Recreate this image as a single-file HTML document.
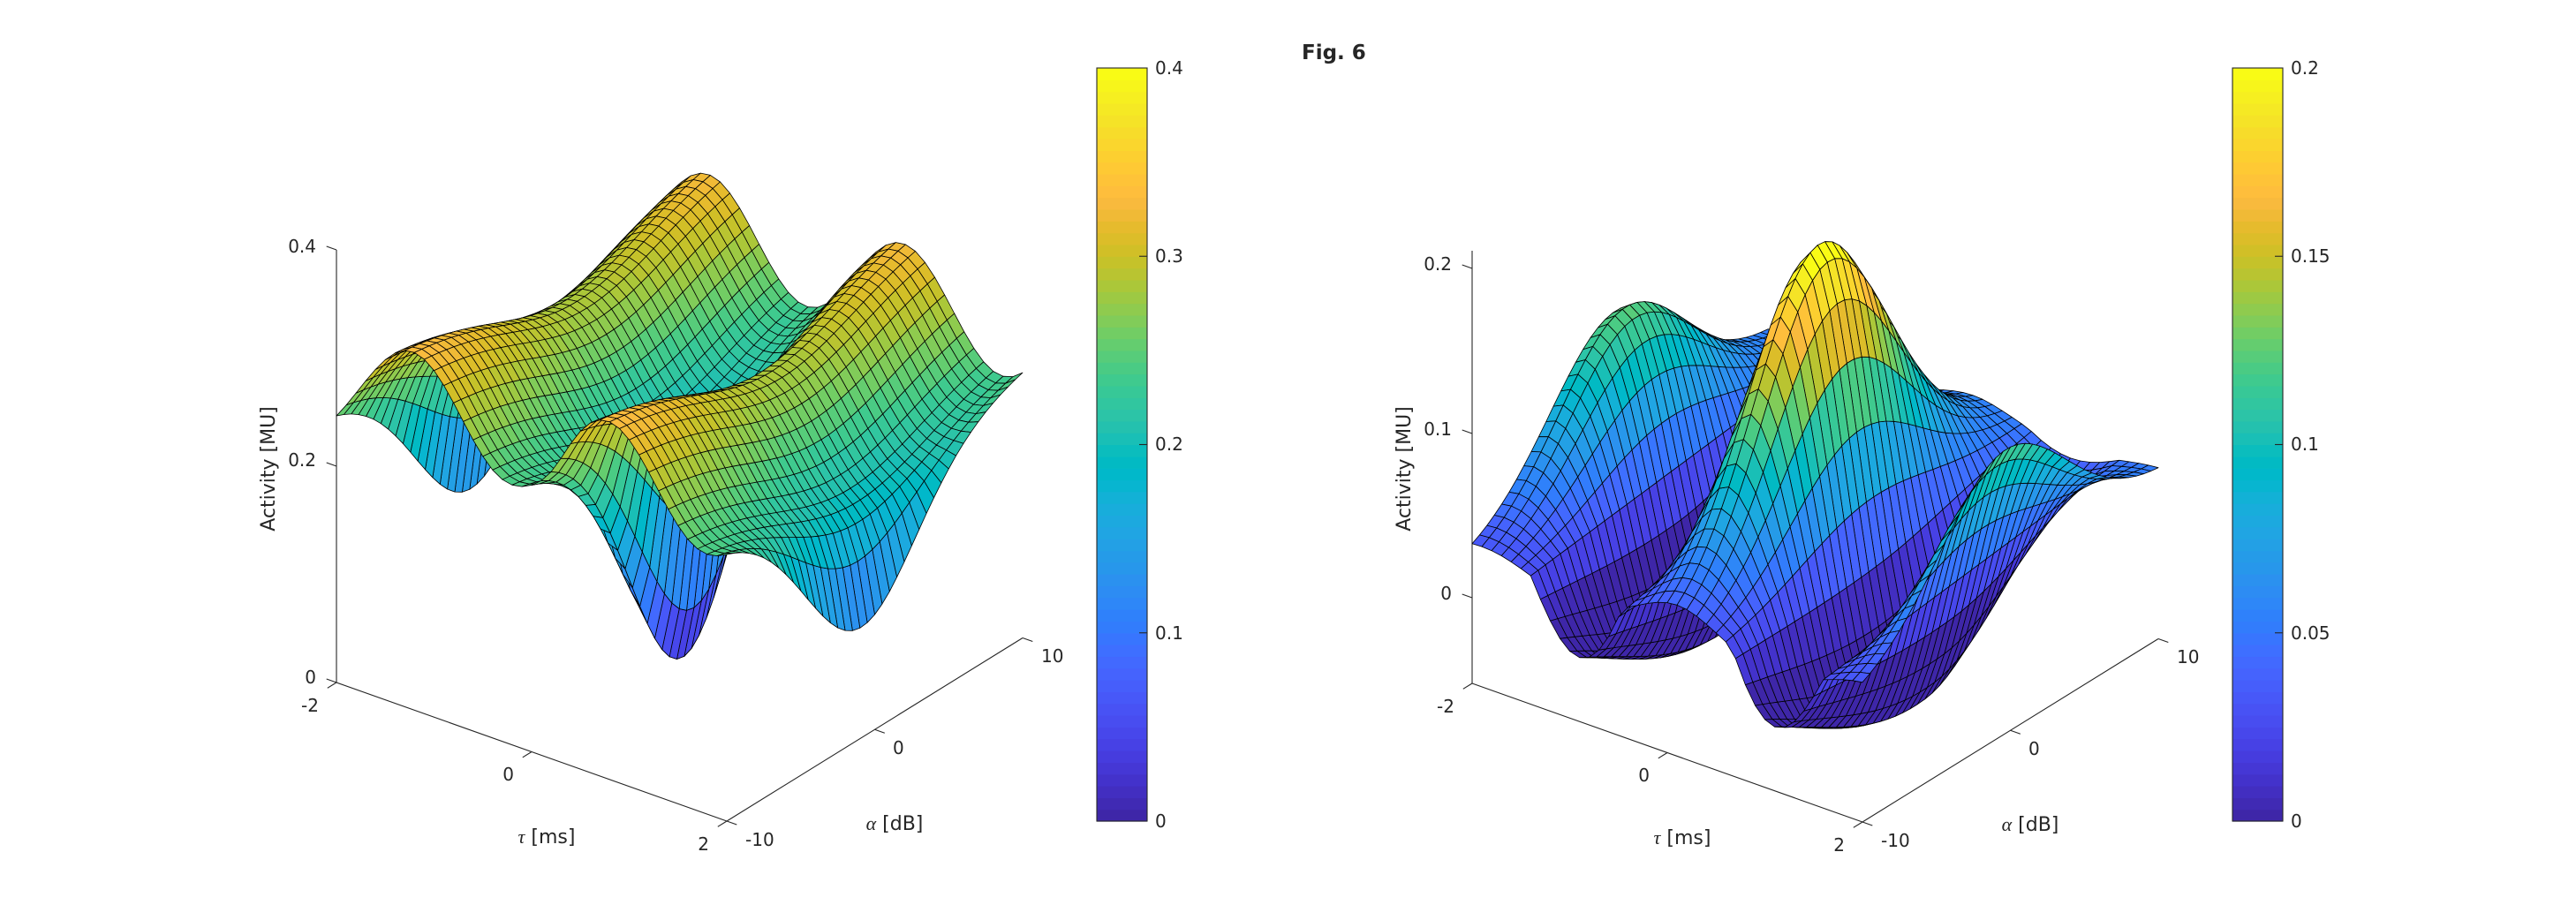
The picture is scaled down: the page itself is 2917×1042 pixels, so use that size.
<!DOCTYPE html>
<html>
<head>
<meta charset="utf-8">
<style>
  html,body{margin:0;padding:0;background:#fff;}
  body{width:2917px;height:1042px;overflow:hidden;}
  svg{display:block;}
  .t{font-family:"DejaVu Sans","Liberation Sans",sans-serif;fill:#262626;}
</style>
</head>
<body>
<svg id="fig" xmlns="http://www.w3.org/2000/svg" width="2917" height="1042" viewBox="0 0 2917 1042">
  <defs>
    <linearGradient id="parg" x1="0" y1="1" x2="0" y2="0">
      <stop offset="0" stop-color="#3e26a8"/>
      <stop offset="0.125" stop-color="#4744e6"/>
      <stop offset="0.25" stop-color="#327cfc"/>
      <stop offset="0.375" stop-color="#1b9de4"/>
      <stop offset="0.5" stop-color="#0bbdbc"/>
      <stop offset="0.625" stop-color="#55cc6c"/>
      <stop offset="0.75" stop-color="#c5c22a"/>
      <stop offset="0.875" stop-color="#fcbd38"/>
      <stop offset="1" stop-color="#f9fb15"/>
    </linearGradient>
  </defs>
  <rect x="0" y="0" width="2917" height="1042" fill="#ffffff"/>

  <!-- Title -->
  <text class="t" x="1474" y="67" font-size="23" font-weight="bold">Fig. 6</text>

  <!-- LEFT AXES -->
  <g stroke="#262626" stroke-width="1.1" fill="none">
    <line x1="381" y1="283" x2="381" y2="773"/>
    <line x1="381" y1="773" x2="823" y2="930"/>
    <line x1="823" y1="930" x2="1158" y2="722.5"/>
    <line x1="381" y1="283" x2="369.7" y2="279"/>
    <line x1="381" y1="528" x2="369.7" y2="524"/>
    <line x1="381" y1="773" x2="369.7" y2="769"/>
    <line x1="381" y1="773" x2="370.8" y2="779.3"/>
    <line x1="602" y1="851.5" x2="591.8" y2="857.8"/>
    <line x1="823" y1="930" x2="812.8" y2="936.3"/>
    <line x1="823" y1="930" x2="834.3" y2="934"/>
    <line x1="990.5" y1="826.25" x2="1001.8" y2="830.25"/>
    <line x1="1158" y1="722.5" x2="1169.3" y2="726.5"/>
  </g>
  <g id="surfL"></g>
  <g class="t" font-size="20">
    <text x="358" y="286" text-anchor="end">0.4</text>
    <text x="358" y="528" text-anchor="end">0.2</text>
    <text x="358" y="774" text-anchor="end">0</text>
    <text x="361" y="806" text-anchor="end">-2</text>
    <text x="582" y="884" text-anchor="end">0</text>
    <text x="803" y="963" text-anchor="end">2</text>
    <text x="844" y="958">-10</text>
    <text x="1011" y="854">0</text>
    <text x="1179" y="750">10</text>
  </g>
  <g class="t" font-size="22">
    <text x="619" y="955" text-anchor="middle"><tspan font-family="Liberation Serif,serif" font-style="italic">τ</tspan> [ms]</text>
    <text x="1013" y="940" text-anchor="middle"><tspan font-family="Liberation Serif,serif" font-style="italic">α</tspan> [dB]</text>
    <text transform="translate(311,531) rotate(-90)" text-anchor="middle">Activity [MU]</text>
  </g>
  <!-- left colorbar -->
  <rect x="1242" y="77" width="57" height="853" fill="url(#parg)"/>
  <g id="cbL"></g>
  <rect x="1242" y="77" width="57" height="853" fill="none" stroke="#262626" stroke-width="1.1"/>
  <g stroke="#262626" stroke-width="1.1">
    <line x1="1290" y1="290.25" x2="1299" y2="290.25"/>
    <line x1="1290" y1="503.5" x2="1299" y2="503.5"/>
    <line x1="1290" y1="716.75" x2="1299" y2="716.75"/>
  </g>
  <g class="t" font-size="20">
    <text x="1308" y="84">0.4</text>
    <text x="1308" y="297">0.3</text>
    <text x="1308" y="510">0.2</text>
    <text x="1308" y="724">0.1</text>
    <text x="1308" y="937">0</text>
  </g>

  <!-- RIGHT AXES -->
  <g stroke="#262626" stroke-width="1.1" fill="none">
    <line x1="1667" y1="284" x2="1667" y2="774"/>
    <line x1="1667" y1="774" x2="2109" y2="931"/>
    <line x1="2109" y1="931" x2="2444" y2="723.5"/>
    <line x1="1667" y1="304" x2="1655.7" y2="300"/>
    <line x1="1667" y1="491" x2="1655.7" y2="487"/>
    <line x1="1667" y1="677" x2="1655.7" y2="673"/>
    <line x1="1667" y1="774" x2="1656.8" y2="780.3"/>
    <line x1="1888" y1="852.5" x2="1877.8" y2="858.8"/>
    <line x1="2109" y1="931" x2="2098.8" y2="937.3"/>
    <line x1="2109" y1="931" x2="2120.3" y2="935"/>
    <line x1="2276.5" y1="827.25" x2="2287.8" y2="831.25"/>
    <line x1="2444" y1="723.5" x2="2455.3" y2="727.5"/>
  </g>
  <g id="surfR"></g>
  <g class="t" font-size="20">
    <text x="1644" y="306" text-anchor="end">0.2</text>
    <text x="1644" y="493" text-anchor="end">0.1</text>
    <text x="1644" y="679" text-anchor="end">0</text>
    <text x="1647" y="807" text-anchor="end">-2</text>
    <text x="1868" y="885" text-anchor="end">0</text>
    <text x="2089" y="964" text-anchor="end">2</text>
    <text x="2130" y="959">-10</text>
    <text x="2297" y="855">0</text>
    <text x="2465" y="751">10</text>
  </g>
  <g class="t" font-size="22">
    <text x="1905" y="956" text-anchor="middle"><tspan font-family="Liberation Serif,serif" font-style="italic">τ</tspan> [ms]</text>
    <text x="2299" y="941" text-anchor="middle"><tspan font-family="Liberation Serif,serif" font-style="italic">α</tspan> [dB]</text>
    <text transform="translate(1597,531) rotate(-90)" text-anchor="middle">Activity [MU]</text>
  </g>
  <!-- right colorbar -->
  <rect x="2528" y="77" width="57" height="853" fill="url(#parg)"/>
  <g id="cbR"></g>
  <rect x="2528" y="77" width="57" height="853" fill="none" stroke="#262626" stroke-width="1.1"/>
  <g stroke="#262626" stroke-width="1.1">
    <line x1="2576" y1="290.25" x2="2585" y2="290.25"/>
    <line x1="2576" y1="503.5" x2="2585" y2="503.5"/>
    <line x1="2576" y1="716.75" x2="2585" y2="716.75"/>
  </g>
  <g class="t" font-size="20">
    <text x="2594" y="84">0.2</text>
    <text x="2594" y="297">0.15</text>
    <text x="2594" y="510">0.1</text>
    <text x="2594" y="724">0.05</text>
    <text x="2594" y="937">0</text>
  </g>
</svg>

<script>
(function(){
var PAR=[[0.2422,0.1504,0.6603],[0.2504,0.1650,0.7076],[0.2578,0.1818,0.7511],[0.2647,0.1978,0.7952],[0.2706,0.2147,0.8364],[0.2751,0.2342,0.8710],[0.2783,0.2559,0.8991],[0.2803,0.2782,0.9221],[0.2813,0.3006,0.9414],[0.2810,0.3228,0.9579],[0.2795,0.3447,0.9717],[0.2760,0.3667,0.9829],[0.2699,0.3892,0.9906],[0.2602,0.4123,0.9952],[0.2440,0.4358,0.9988],[0.2206,0.4603,0.9973],[0.1963,0.4847,0.9892],[0.1834,0.5074,0.9798],[0.1786,0.5289,0.9682],[0.1764,0.5499,0.9520],[0.1687,0.5703,0.9359],[0.1540,0.5902,0.9218],[0.1460,0.6091,0.9079],[0.1380,0.6276,0.8973],[0.1248,0.6459,0.8883],[0.1113,0.6635,0.8763],[0.0952,0.6798,0.8598],[0.0689,0.6948,0.8394],[0.0297,0.7082,0.8163],[0.0036,0.7203,0.7917],[0.0067,0.7312,0.7660],[0.0433,0.7411,0.7394],[0.0964,0.7500,0.7120],[0.1408,0.7584,0.6842],[0.1717,0.7670,0.6554],[0.1938,0.7758,0.6251],[0.2161,0.7843,0.5923],[0.2470,0.7918,0.5567],[0.2906,0.7973,0.5188],[0.3406,0.8008,0.4789],[0.3909,0.8029,0.4354],[0.4456,0.8024,0.3909],[0.5044,0.7993,0.3480],[0.5616,0.7942,0.3045],[0.6174,0.7876,0.2612],[0.6720,0.7793,0.2227],[0.7242,0.7698,0.1910],[0.7738,0.7598,0.1646],[0.8203,0.7498,0.1535],[0.8634,0.7406,0.1596],[0.9035,0.7330,0.1774],[0.9393,0.7288,0.2100],[0.9728,0.7298,0.2394],[0.9956,0.7434,0.2371],[0.9970,0.7659,0.2199],[0.9952,0.7893,0.2028],[0.9892,0.8136,0.1885],[0.9786,0.8386,0.1766],[0.9676,0.8639,0.1643],[0.9610,0.8890,0.1537],[0.9597,0.9135,0.1423],[0.9628,0.9373,0.1265],[0.9691,0.9606,0.1064],[0.9769,0.9839,0.0805]];
var N=PAR.length;
function col(t){var i=Math.floor(t*N);if(i<0)i=0;if(i>N-1)i=N-1;var c=PAR[i];
  return 'rgb('+Math.round(c[0]*255)+','+Math.round(c[1]*255)+','+Math.round(c[2]*255)+')';}
var NS='http://www.w3.org/2000/svg';

function cbar(id,x){
  var g=document.getElementById(id);var h=853/N;
  for(var i=0;i<N;i++){var r=document.createElementNS(NS,'rect');
    r.setAttribute('x',x);r.setAttribute('y',(930-(i+1)*h).toFixed(2));
    r.setAttribute('width',57);r.setAttribute('height',(h+0.6).toFixed(2));
    r.setAttribute('fill',col((i+0.5)/N));g.appendChild(r);}
}
cbar('cbL',1242);cbar('cbR',2528);

function Lf(t,a){
  var V=Math.exp(-Math.pow((t-0.2)/0.24,2))+Math.exp(-Math.pow((t+2.2)/0.24,2))+Math.exp(-Math.pow((t-2.2)/0.24,2));
  return 0.29+0.045*Math.cos(Math.PI*(t+1.22))
        -0.05*Math.exp(-Math.pow((a-1)/7,2))
        -0.215*Math.exp(-Math.pow((a+1.3)/4.9,2))*V;
}
function Rf(t,a){
  var tp=t-0.1;
  var C=0.088*Math.cos(Math.PI*tp)+0.081*Math.exp(-Math.pow(tp/0.45,2));
  var b0=0.026+0.022*(a+10)/20;
  var da=a+0.5;
  var G=Math.exp(-Math.pow(da/6,2));
  var H=Math.exp(-Math.pow(da/(da<0?10.6:7),2));
  return b0+(C>0?G*C:H*C);
}

function surf(id,f,X0,Y0,zmin,zs,cmin,cmax){
  var ax=110.5,bx=16.75,ay=39.25,by=-10.375;
  var NT=41,NA=41,dt=0.1,da=0.5;
  var P=[],Z=[];
  for(var i=0;i<NT;i++){P.push([]);Z.push([]);
    var t=-2+i*dt,u=t+2;
    for(var j=0;j<NA;j++){var a=-10+j*da,v=a+10,z=f(t,a);Z[i].push(z);
      P[i].push([X0+ax*u+bx*v, Y0+ay*u+by*v-zs*(z-zmin)]);}}
  var sv=Math.sqrt(-bx*by/(ax*ay));
  var k2=ax*ax+Math.pow(bx/sv,2)-ay*ay-Math.pow(by/sv,2);
  var sw=zs/Math.sqrt(k2);
  var r1=[ax,bx/sv,0],r2=[ay,by/sv,-zs/sw];
  var d=[r1[1]*r2[2]-r1[2]*r2[1],r1[2]*r2[0]-r1[0]*r2[2],r1[0]*r2[1]-r1[1]*r2[0]];
  function dep(u,v,w){return d[0]*u+d[1]*v*sv+d[2]*w*sw;}
  var sgn=(dep(4,0,0)>dep(0,20,0))?-1:1;
  var Q=[];
  for(var i=0;i<NT-1;i++)for(var j=0;j<NA-1;j++){
    var w=(Z[i][j]+Z[i+1][j]+Z[i+1][j+1]+Z[i][j+1])/4;
    Q.push([sgn*dep((i+0.5)*dt,(j+0.5)*da,w),i,j,w]);}
  Q.sort(function(p,q){return q[0]-p[0];});
  var g=document.getElementById(id);
  var frag=document.createDocumentFragment();
  for(var k=0;k<Q.length;k++){var i=Q[k][1],j=Q[k][2];
    var a=P[i][j],b=P[i+1][j],c=P[i+1][j+1],e=P[i][j+1];
    var pg=document.createElementNS(NS,'polygon');
    pg.setAttribute('points',a[0].toFixed(1)+','+a[1].toFixed(1)+' '+b[0].toFixed(1)+','+b[1].toFixed(1)+' '+c[0].toFixed(1)+','+c[1].toFixed(1)+' '+e[0].toFixed(1)+','+e[1].toFixed(1));
    pg.setAttribute('fill',col((Q[k][3]-cmin)/(cmax-cmin)));
    pg.setAttribute('stroke','#000');
    pg.setAttribute('stroke-width','0.8');
    pg.setAttribute('stroke-linejoin','round');
    frag.appendChild(pg);}
  g.appendChild(frag);
}
surf('surfL',Lf,381,773,0,1225,0,0.4);
surf('surfR',Rf,1667,774,-0.052,1865,0,0.2);
})();
</script>
</body>
</html>
